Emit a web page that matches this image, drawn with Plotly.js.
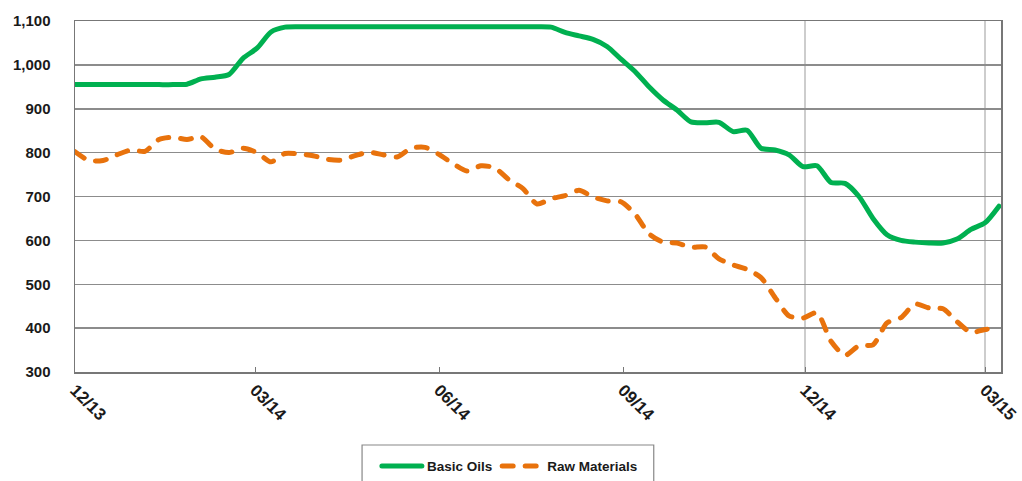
<!DOCTYPE html>
<html>
<head>
<meta charset="utf-8">
<script src="https://cdn.plot.ly/plotly-3.0.1.min.js"></script>
<style>
html,body{margin:0;padding:0;background:#fff;}
#chart{width:1022px;height:481px;}
.scatterlayer .js-line, .legendlines path {stroke-linecap: round;}
</style>
</head>
<body>
<div id="chart"></div>
<script>
// Weekly dates (Dec 2013 - Mar 2015)
const dates = [
 "2013-12-01","2013-12-08","2013-12-15","2013-12-22","2013-12-29",
 "2014-01-05","2014-01-12","2014-01-19","2014-01-26","2014-02-02",
 "2014-02-09","2014-02-16","2014-02-23","2014-03-02","2014-03-09",
 "2014-03-16","2014-03-23","2014-03-30","2014-04-06","2014-04-13",
 "2014-04-20","2014-04-27","2014-05-04","2014-05-11","2014-05-18",
 "2014-05-25","2014-06-01","2014-06-08","2014-06-15","2014-06-22",
 "2014-06-29","2014-07-06","2014-07-13","2014-07-20","2014-07-27",
 "2014-08-03","2014-08-10","2014-08-17","2014-08-24","2014-08-31",
 "2014-09-07","2014-09-14","2014-09-21","2014-09-28","2014-10-05",
 "2014-10-12","2014-10-19","2014-10-26","2014-11-02","2014-11-09",
 "2014-11-16","2014-11-23","2014-11-30","2014-12-07","2014-12-14",
 "2014-12-21","2014-12-28","2015-01-04","2015-01-11","2015-01-18",
 "2015-01-25","2015-02-01","2015-02-08","2015-02-15","2015-02-22",
 "2015-03-01","2015-03-08"
];

const basicOils = [
 955,955,955,955,955,
 955,955,955,956,968,
 972,978,1015,1038,1075,
 1086,1087,1087,1087,1087,
 1087,1087,1087,1087,1087,
 1087,1087,1087,1087,1087,
 1087,1087,1087,1087,1086,
 1074,1066,1058,1042,1013,
 985,950,920,897,870,
 868,869,848,851,810,
 806,795,768,770,732,
 730,700,650,613,600,
 596,594,594,603,625,
 640,678
];

const rawMaterials = [
 802,782,782,795,806,
 803,830,835,830,836,
 808,800,810,800,779,
 798,797,793,785,783,
 793,801,795,790,810,
 812,796,775,758,770,
 765,738,718,683,695,
 702,714,699,690,688,
 660,615,596,594,584,
 585,558,544,534,515,
 470,428,423,435,370,
 338,360,362,412,424,
 455,446,444,415,390,
 397,400
];

const tickDates = ["2013-12-01","2014-03-01","2014-06-01","2014-09-01","2014-12-01","2015-03-01"];
const tickLabels = ["12/13","03/14","06/14","09/14","12/14","03/15"];
const yTicks = [300,400,500,600,700,800,900,1000,1100];
const yLabels = ["300","400","500","600","700","800","900","1,000","1,100"];
const vGridDates = ["2014-12-01","2015-03-01"];

const traces = [
 {
  x: dates, y: basicOils, name: "Basic Oils", type: "scatter", mode: "lines",
  line: {color: "#00B050", width: 5, shape: "spline", smoothing: 0.7}
 },
 {
  x: dates, y: rawMaterials, name: "Raw Materials", type: "scatter", mode: "lines",
  line: {color: "#E8720C", width: 5, dash: "11px,12px", shape: "spline", smoothing: 0.7}
 }
];

const shapes = vGridDates.map(d => ({
  type: "line", xref: "x", yref: "paper", x0: d, x1: d, y0: 0, y1: 1,
  line: {color: "#bdbdbd", width: 1.5}, layer: "below"
}));
// legend frame
shapes.push({
  type: "rect", xref: "paper", yref: "paper",
  x0: 0.310, x1: 0.625, y0: -0.208, y1: -0.36,
  line: {color: "#888", width: 1.2}, fillcolor: "rgba(0,0,0,0)", layer: "above"
});

const layout = {
 width: 1022, height: 481,
 margin: {l: 75, r: 21, t: 21, b: 109, autoexpand: false},
 paper_bgcolor: "#fff", plot_bgcolor: "#fff",
 font: {family: "Liberation Sans, Arial, sans-serif", color: "#1a1a1a"},
 showlegend: true,
 legend: {
  orientation: "h", x: 0.326, xanchor: "left", y: -0.224, yanchor: "top",
  borderwidth: 0, bgcolor: "rgba(0,0,0,0)",
  font: {size: 13.5, family: "Liberation Sans, Arial, sans-serif", weight: "bold", color: "#1a1a1a"},
  traceorder: "normal", itemwidth: 40
 },
 xaxis: {
  type: "date", range: ["2013-12-01", "2015-03-09"], automargin: false,
  tickmode: "array", tickvals: tickDates, ticktext: tickLabels,
  tickangle: 45, ticks: "inside", ticklen: 5, tickcolor: "#777",
  tickfont: {size: 17, family: "Liberation Sans, Arial, sans-serif", weight: "bold", color: "#1a1a1a"},
  showgrid: false, zeroline: false,
  showline: true, linecolor: "#777", linewidth: 1.5, mirror: true
 },
 yaxis: {
  range: [300, 1100], tickmode: "array", tickvals: yTicks, ticktext: yLabels,
  ticks: "", ticklabelstandoff: 20, automargin: false,
  tickfont: {size: 15, family: "Liberation Sans, Arial, sans-serif", weight: "bold", color: "#1a1a1a"},
  showgrid: true, gridcolor: "#8c8c8c", gridwidth: 1.5, zeroline: false,
  showline: true, linecolor: "#777", linewidth: 1.5, mirror: true
 },
 shapes: shapes
};

Plotly.newPlot("chart", traces, layout, {staticPlot: true, displayModeBar: false});
</script>
</body>
</html>
